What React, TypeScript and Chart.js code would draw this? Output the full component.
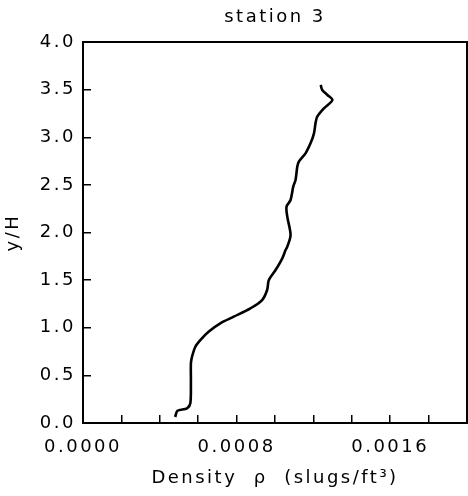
import React, { useEffect, useRef } from "react";
import { Chart, registerables } from "chart.js";

Chart.register(...registerables);

// Density (slugs/ft^3) and height ratio y/H
const densityValues = [
  0.000480, 0.000492, 0.000542, 0.000559, 0.000562, 0.000562, 0.000568, 0.000585,
  0.000611, 0.000654, 0.000715, 0.000785, 0.000872, 0.000933, 0.000959, 0.000968,
  0.001003, 0.001038, 0.001055, 0.001064, 0.001081, 0.001064, 0.001060, 0.001081,
  0.001095, 0.001107, 0.001116, 0.001124, 0.001159, 0.001185, 0.001203, 0.001211,
  0.001220, 0.001255, 0.001299, 0.001273, 0.001246, 0.001238,
];
const heightValues = [
  0.063, 0.129, 0.154, 0.207, 0.417, 0.627, 0.696, 0.801,
  0.871, 0.959, 1.047, 1.116, 1.204, 1.291, 1.396, 1.501,
  1.606, 1.729, 1.816, 1.851, 1.974, 2.166, 2.271, 2.341,
  2.481, 2.551, 2.691, 2.743, 2.831, 2.936, 3.041, 3.146,
  3.216, 3.304, 3.391, 3.444, 3.496, 3.549,
];
const xLabelValues = [0, 0.0008, 0.0016];
const chartTitle = "station 3";
const xTitle = "Density  ρ  (slugs/ft³)";
const yTitle = "y/H";

const FONT = "'DejaVu Sans', sans-serif";
const FONT_SIZE = 18;

export default function App() {
  const ref = useRef<HTMLCanvasElement | null>(null);

  useEffect(() => {
    if (!ref.current) return;
    const spacingPlugin = {
      id: "spacing",
      beforeUpdate(chart: any) {
        chart.ctx.letterSpacing = "2.5px";
      },
      beforeDraw(chart: any) {
        chart.ctx.letterSpacing = "2.5px";
      },
    };
    const boxPlugin = {
      id: "box",
      afterDatasetsDraw(chart: any) {
        const { ctx, chartArea } = chart;
        ctx.save();
        ctx.strokeStyle = "#000";
        ctx.lineWidth = 2;
        ctx.strokeRect(chartArea.left, chartArea.top, chartArea.right - chartArea.left, chartArea.bottom - chartArea.top);
        ctx.restore();
      },
    };
    const data = densityValues.map((x, i) => ({ x, y: heightValues[i] }));
    const chart = new Chart(ref.current, {
      type: "scatter",
      data: {
        datasets: [
          {
            data,
            showLine: true,
            borderColor: "#000",
            borderWidth: 2.6,
            pointRadius: 0,
            tension: 0.3,
            fill: false,
          },
        ],
      },
      options: {
        animation: false,
        responsive: false,
        layout: { padding: { left: 0, right: 1, top: 0, bottom: 0 } },
        plugins: {
          legend: { display: false },
          tooltip: { enabled: false },
          title: {
            display: true,
            text: chartTitle,
            fullSize: false,
            color: "#000",
            font: { family: FONT, size: FONT_SIZE, weight: "normal", lineHeight: 1.2 },
            padding: { top: 7, bottom: 13.4 },
          },
        },
        scales: {
          x: {
            type: "linear",
            min: 0,
            max: 0.002,
            afterFit(scale: any) {
              scale.height = 73;
              scale.paddingLeft = 0;
              scale.paddingRight = 0;
            },
            border: { display: true, color: "#000", width: 2 },
            grid: { drawOnChartArea: false, drawTicks: true, tickLength: -8, color: "#000", lineWidth: 1.5 },
            ticks: {
              stepSize: 0.0002,
              padding: 22,
              maxRotation: 0,
              autoSkip: false,
              color: "#000",
              font: { family: FONT, size: FONT_SIZE },
              callback(v: any) {
                const n = Number(v);
                const hit = xLabelValues.some((t) => Math.abs(t - n) < 1e-9);
                return hit ? n.toFixed(4) : "";
              },
            },
            title: {
              display: true,
              text: xTitle,
              color: "#000",
              font: { family: FONT, size: FONT_SIZE, lineHeight: 1.2 },
              padding: { top: 0, bottom: 7 },
            },
          },
          y: {
            type: "linear",
            min: 0,
            max: 4,
            afterFit(scale: any) {
              scale.width = 83;
            },
            border: { display: true, color: "#000", width: 2 },
            grid: { drawOnChartArea: false, drawTicks: true, tickLength: -8, color: "#000", lineWidth: 1.5 },
            ticks: {
              stepSize: 0.5,
              padding: 15,
              autoSkip: false,
              color: "#000",
              font: { family: FONT, size: FONT_SIZE },
              callback(v: any) {
                return Number(v).toFixed(1);
              },
            },
            title: {
              display: true,
              text: yTitle,
              color: "#000",
              font: { family: FONT, size: FONT_SIZE, lineHeight: 1.2 },
              padding: { top: 3, bottom: 0 },
            },
          },
        },
      },
      plugins: [spacingPlugin, boxPlugin],
    } as any);
    return () => chart.destroy();
  }, []);

  return (
    <div style={{ position: "fixed", left: 0, top: 0, width: 468, height: 496, background: "#fff" }}>
      <canvas ref={ref} width={468} height={496} style={{ display: "block" }} />
    </div>
  );
}
